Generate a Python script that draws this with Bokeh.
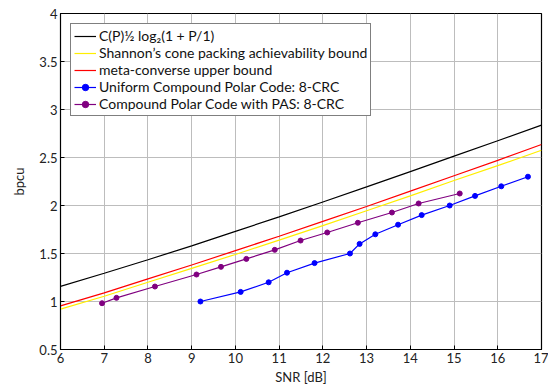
from bokeh.plotting import figure
from bokeh.models import Legend, LegendItem, FixedTicker, Range1d
from bokeh.embed import file_html
from bokeh.resources import INLINE

snr_grid = [6, 7, 8, 9, 10, 11, 12, 13, 14, 15, 16, 17]
capacity = [1.158, 1.294, 1.435, 1.580, 1.730, 1.882, 2.037, 2.194, 2.353, 2.514, 2.675, 2.837]
shannon_cone = [0.92, 1.055, 1.20, 1.345, 1.49, 1.64, 1.79, 1.945, 2.10, 2.26, 2.415, 2.575]
meta_converse = [0.955, 1.09, 1.235, 1.38, 1.53, 1.68, 1.835, 1.99, 2.15, 2.31, 2.47, 2.635]

uniform_snr = [9.20, 10.12, 10.76, 11.18, 11.81, 12.62, 12.84, 13.20, 13.72, 14.26, 14.90, 15.48, 16.08, 16.69]
uniform_rate = [1.0, 1.1, 1.2, 1.3, 1.4, 1.5, 1.6, 1.7, 1.8, 1.9, 2.0, 2.1, 2.2, 2.3]

pas_snr = [6.95, 7.28, 8.16, 9.11, 9.67, 10.25, 10.90, 11.49, 12.10, 12.80, 13.58, 14.19, 15.13]
pas_rate = [0.982, 1.038, 1.156, 1.281, 1.361, 1.444, 1.538, 1.635, 1.719, 1.820, 1.927, 2.021, 2.125]

x_ticks = list(range(6, 18))
y_ticks = [0.5, 1, 1.5, 2, 2.5, 3, 3.5, 4]

labels = [
    "C(P)\u00bd log\u2082(1 + P/1)",
    "Shannon\u2019s cone packing achievability bound",
    "meta-converse upper bound",
    "Uniform Compound Polar Code: 8-CRC",
    "Compound Polar Code with PAS: 8-CRC",
]

FONT = "Lato"

p = figure(width=548, height=387, output_backend="svg", toolbar_location=None,
           x_range=Range1d(6, 17), y_range=Range1d(0.5, 4),
           min_border_left=60, min_border_right=7, min_border_top=13, min_border_bottom=38)
p.background_fill_color = "white"
p.border_fill_color = "white"
p.outline_line_color = "black"
p.outline_line_width = 1.2

r1 = p.line(snr_grid, capacity, line_color="black", line_width=1.2)
r2 = p.line(snr_grid, shannon_cone, line_color="#ffee00", line_width=1.2)
r3 = p.line(snr_grid, meta_converse, line_color="red", line_width=1.2)
r4 = p.line(uniform_snr, uniform_rate, line_color="blue", line_width=1.2)
r4m = p.scatter(uniform_snr, uniform_rate, fill_color="blue", line_color="blue", size=5)
r5 = p.line(pas_snr, pas_rate, line_color="#800080", line_width=1.2)
r5m = p.scatter(pas_snr, pas_rate, fill_color="#800080", line_color="#800080", size=5)

for ax in (p.xaxis[0], p.yaxis[0]):
    ax.major_tick_in = 4
    ax.major_tick_out = 0
    ax.minor_tick_in = 0
    ax.minor_tick_out = 0
    ax.axis_line_color = "black"
    ax.major_tick_line_color = "black"
    ax.major_label_text_font = FONT
    ax.major_label_text_font_size = "13px"
    ax.major_label_text_color = "#222222"
    ax.axis_label_text_font = FONT
    ax.axis_label_text_font_size = "13px"
    ax.axis_label_text_font_style = "normal"
    ax.axis_label_text_color = "#222222"
    ax.major_label_standoff = 3

p.xaxis[0].ticker = FixedTicker(ticks=x_ticks)
p.yaxis[0].ticker = FixedTicker(ticks=y_ticks)
p.xaxis[0].axis_label = "SNR [dB]"
p.yaxis[0].axis_label = "bpcu"
p.xaxis[0].axis_label_standoff = 3
p.yaxis[0].axis_label_standoff = 9

p.xgrid.ticker = FixedTicker(ticks=x_ticks)
p.ygrid.ticker = FixedTicker(ticks=y_ticks)
p.grid.grid_line_color = "#bdbdbd"
p.grid.grid_line_width = 1

legend = Legend(items=[
    LegendItem(label=labels[0], renderers=[r1]),
    LegendItem(label=labels[1], renderers=[r2]),
    LegendItem(label=labels[2], renderers=[r3]),
    LegendItem(label=labels[3], renderers=[r4, r4m]),
    LegendItem(label=labels[4], renderers=[r5, r5m]),
], location="top_left")
legend.label_text_font = FONT
legend.label_text_font_size = "14px"
legend.label_text_color = "#111111"
legend.border_line_color = "black"
legend.border_line_width = 1
legend.background_fill_alpha = 1
legend.margin = 10
legend.padding = 3
legend.spacing = 0
legend.label_height = 16
legend.glyph_height = 16
legend.glyph_width = 22
legend.label_standoff = 3
p.add_layout(legend)

open("out.html", "w").write(file_html(p, INLINE))
